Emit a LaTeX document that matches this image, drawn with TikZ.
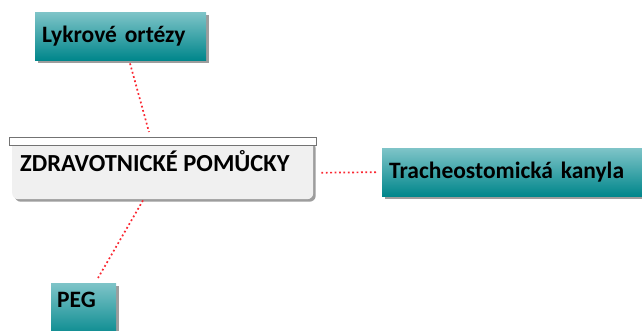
\documentclass[tikz,border=0pt]{standalone}
\usepackage{fontspec}
\setmainfont{Carlito}
\usetikzlibrary{shadows,calc}
\definecolor{tealtop}{RGB}{126,196,200}
\definecolor{tealbot}{RGB}{0,134,139}
\definecolor{hubfill}{RGB}{240,240,240}
\definecolor{linkred}{RGB}{250,40,50}
\tikzset{
  boxshadow/.style={drop shadow={shadow xshift=2.5pt, shadow yshift=-2.5pt, fill=black!55, opacity=0.7}},
  topic/.style={anchor=north west, rectangle, top color=tealtop, bottom color=tealbot,
    inner xsep=7pt, align=left, font=\fontsize{23.5}{26}\selectfont\bfseries, boxshadow},
  topiclabel/.style={anchor=north west, inner sep=0pt, font=\fontsize{23.5}{26}\selectfont\bfseries},
  link/.style={draw=linkred, line width=1.7pt, dash pattern=on 1.8pt off 2.6pt},
}
\begin{document}
\begin{tikzpicture}[x=1pt, y=-1pt]
  \useasboundingbox (0,0) rectangle (642,331);
  % central topic: light body with rounded bottom, white strip on top
  \node[anchor=north west, rectangle, rounded corners=6pt, fill=hubfill,
        minimum width=301pt, minimum height=59pt, boxshadow]
        (hub) at (12,140) {};
  \node[anchor=north west, rectangle, fill=white, draw=black!55, line width=0.8pt,
        minimum width=307pt, minimum height=8pt, inner sep=0pt] (strip) at (9,137) {};
  \node[anchor=west, inner sep=0pt, font=\fontsize{24.5}{27}\selectfont\bfseries]
        (hubtext) at (20,161.5) {ZDRAVOTNICKÉ POMŮCKY};
  % subtopics
  \node[topic, minimum width=171pt, minimum height=48pt, text width=157pt]
        (lyk) at (35,12) {Lykrové ortézy};
  \node[topic, minimum width=270pt, minimum height=48pt, text width=256pt]
        (trach) at (382,148) {Tracheostomická kanyla};
  \node[topic, minimum width=65pt, minimum height=56pt] (peg) at (51,283) {};
  \node[topiclabel] (peglabel) at ([xshift=6pt, yshift=-9pt]peg.north west) {PEG};
  % connectors
  \draw[link] ([xshift=95pt, yshift=-3pt]lyk.south west) -- ([xshift=140pt, yshift=5pt]strip.north west);
  \draw[link] ([xshift=8pt, yshift=-3pt]hub.east) -- ([xshift=-4pt]trach.west);
  \draw[link] ([xshift=131pt, yshift=-1pt]hub.south west) -- ([xshift=47pt, yshift=5pt]peg.north west);
\end{tikzpicture}
\end{document}
